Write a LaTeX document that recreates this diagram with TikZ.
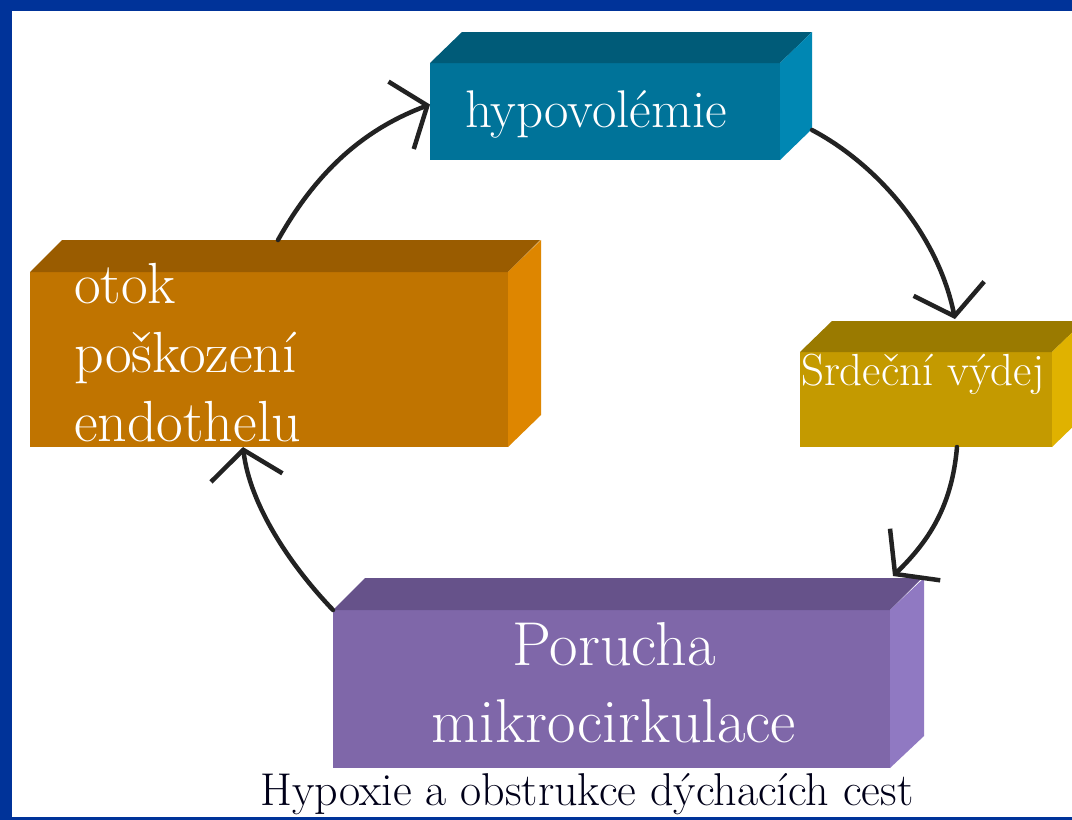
\documentclass[tikz,border=0pt]{standalone}
\usepackage{fontspec}
\usetikzlibrary{arrows.meta,calc}

\definecolor{framecol}{HTML}{003399}
\definecolor{hypofront}{HTML}{007399}
\definecolor{hypotop}{HTML}{005B78}
\definecolor{hyposide}{HTML}{0087B3}
\definecolor{otokfront}{HTML}{C07400}
\definecolor{otoktop}{HTML}{9A5C00}
\definecolor{otokside}{HTML}{DE8600}
\definecolor{srdfront}{HTML}{C49A00}
\definecolor{srdtop}{HTML}{9A7A00}
\definecolor{srdside}{HTML}{E0B200}
\definecolor{porfront}{HTML}{7F67A9}
\definecolor{portop}{HTML}{66528A}
\definecolor{porside}{HTML}{9079C2}
\definecolor{arrcol}{HTML}{222222}

\begin{document}
\begin{tikzpicture}[
  x=1pt, y=-1pt,
  face/.style={inner sep=0pt, outer sep=0pt, anchor=north west},
  lbl/.style={text=white, inner sep=0pt, outer sep=0pt},
  arr/.style={line width=4.5pt, arrcol, line cap=round,
    -{Straight Barb[length=28pt, width=72pt, line width=4.5pt]}}
]
\useasboundingbox (0,0) rectangle (1072,820);
\fill[white] (0,0) rectangle (1072,820);

\node[face, fill=hypofront, minimum width=350pt, minimum height=97pt] (hypo) at (430,63) {};
\fill[hypotop] (hypo.north west) -- ++(32,-31) -- ++(350,0) -- (hypo.north east) -- cycle;
\fill[hyposide] (hypo.north east) -- ++(32,-31) -- ++(0,97) -- (hypo.south east) -- cycle;
\node[lbl, anchor=base west, font=\fontsize{53}{60}\selectfont] (hypotext) at (465,127) {hypovolémie};

\node[face, fill=otokfront, minimum width=478pt, minimum height=175pt] (otok) at (30,272) {};
\fill[otoktop] (otok.north west) -- ++(32,-32) -- ++(478,0) -- (otok.north east) -- cycle;
\fill[otokside] (otok.north east) -- ++(33,-32) -- ++(0,175) -- (otok.south east) -- cycle;
\node[lbl, anchor=north west, align=left, font=\fontsize{58}{69}\selectfont] (otoktext) at (74,263) {otok\\poškození\\endothelu};

\node[face, fill=srdfront, minimum width=252pt, minimum height=95pt] (srd) at (800,352) {};
\fill[srdtop] (srd.north west) -- ++(32,-31) -- ++(252,0) -- (srd.north east) -- cycle;
\fill[srdside] (srd.north east) -- ++(32,-31) -- ++(0,95) -- (srd.south east) -- cycle;
\node[lbl, anchor=base west, font=\fontsize{45}{52}\selectfont] (srdtext) at (801,385) {Srdeční výdej};

\node[face, fill=porfront, minimum width=557pt, minimum height=158pt] (por) at (333,610) {};
\fill[portop] (por.north west) -- ++(32,-32) -- ++(557,0) -- (por.north east) -- cycle;
\fill[porside] (por.north east) -- ++(34,-32) -- ++(0,158) -- (por.south east) -- cycle;
\node[lbl, anchor=north, align=center, font=\fontsize{62}{77}\selectfont] (portext) at (614,622) {Porucha\\mikrocirkulace};

\draw[arr] ($(otok.north west)+(248,-32)$) .. controls (320,165) and (370,127) .. ([yshift=7pt]hypo.west);
\draw[arr] ($(hypo.south east)+(32,-30)$) .. controls (878,165) and (938,235) .. ($(srd.north west)+(155,-33)$);
\draw[arr] ($(srd.south west)+(157,0)$) .. controls (952,505) and (930,540) .. ($(por.north east)+(3,-34)$);
\draw[arr] (por.north west) .. controls (290,565) and (250,505) .. ($(otok.south west)+(213,0)$);

\node[anchor=base, text=black!90!blue, inner sep=0pt, font=\fontsize{46}{54}\selectfont] (caption) at (587,805) {Hypoxie a obstrukce dýchacích cest};

\fill[framecol] (0,0) rectangle (1072,11);
\fill[framecol] (0,0) rectangle (12,820);
\fill[framecol] (0,817) rectangle (1072,820);
\end{tikzpicture}
\end{document}
